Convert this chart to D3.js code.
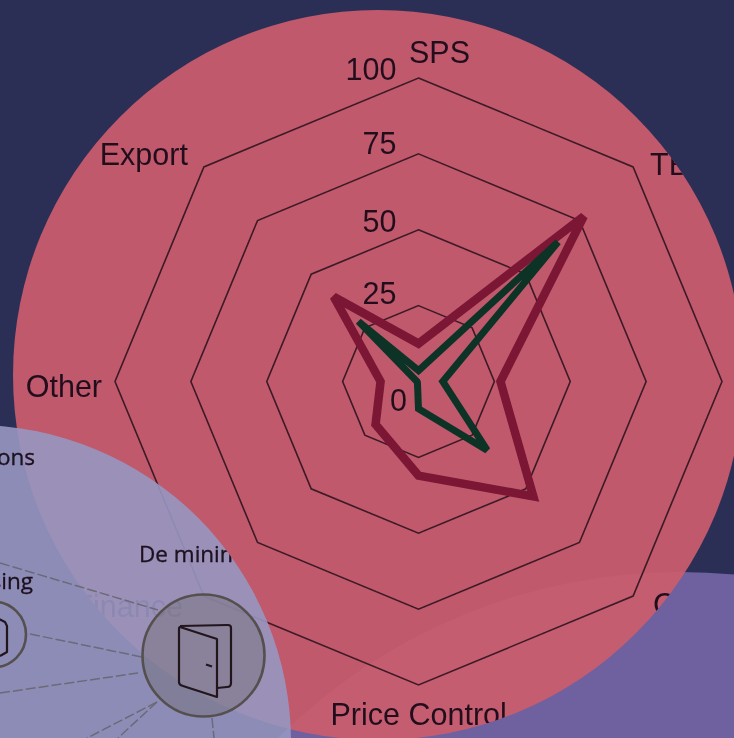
<!DOCTYPE html>
<html>
<head>
<meta charset="utf-8">
<script src="https://cdn.jsdelivr.net/npm/d3@7"></script>
<style>
html,body{margin:0;padding:0;background:#2b2f56;overflow:hidden}
svg{display:block}
text{font-family:"Liberation Sans",Arial,sans-serif}
</style>
</head>
<body>
<svg id="chart" width="734" height="738"></svg>
<script>
const categories = ["SPS","TBT","Quota","Contingent","Price Control","Finance","Other","Export"];
const seriesRed = [12.5,77,27,53.5,31,20,12.5,39.5];
const seriesGreen = [3.6,65,8,32,9,0.5,0.5,28];
const radialTicks = [25,50,75,100];
const tickLabels = ["0","25","50","75","100"];
const nodeLabels = ["De minimis","Exemptions","Licensing"];

const svg = d3.select("#chart");
const defs = svg.append("defs");
const W = 734, H = 738;

const circles = {
  purple:{cx:680,cy:1142,r:570},
  red:{cx:378,cy:375,r:365},
  blue:{cx:-26,cy:742,r:317}
};
defs.append("clipPath").attr("id","clipRed").append("circle").attr("cx",circles.red.cx).attr("cy",circles.red.cy).attr("r",circles.red.r);
defs.append("clipPath").attr("id","clipBlue").append("circle").attr("cx",circles.blue.cx).attr("cy",circles.blue.cy).attr("r",circles.blue.r);
const blur = defs.append("filter").attr("id","soft").attr("x","-5%").attr("y","-5%").attr("width","110%").attr("height","110%");
blur.append("feGaussianBlur").attr("stdDeviation",0.6);

svg.append("rect").attr("width",W).attr("height",H).attr("fill","#2b2f56");
svg.append("circle").attr("cx",circles.purple.cx).attr("cy",circles.purple.cy).attr("r",circles.purple.r).attr("fill","#6f61a0");
svg.append("circle").attr("cx",circles.red.cx).attr("cy",circles.red.cy).attr("r",circles.red.r).attr("fill","#cb5d6e").attr("fill-opacity",0.93);

// Radar chart
const cx = 418.5, cy = 381.5;
const rScale = d3.scaleLinear().domain([0,100]).range([0,303.5]);
const angle = d3.scalePoint().domain(categories).range([0,2*Math.PI*(1-1/categories.length)]);

const radarClip = svg.append("g").attr("clip-path","url(#clipRed)");
const radar = radarClip.append("g").attr("filter","url(#soft)").attr("transform",`translate(${cx},${cy})`);

const poly = d3.lineRadial().curve(d3.curveLinearClosed);
radar.selectAll("path.grid").data(radialTicks).join("path").attr("class","grid")
  .attr("d",t=>poly(categories.map(c=>[angle(c),rScale(t)])))
  .attr("fill","none").attr("stroke","#3c1a27").attr("stroke-width",1.6);

const seriesLine = d3.lineRadial().curve(d3.curveLinearClosed).angle((d,i)=>angle(categories[i])).radius(d=>rScale(d));
radar.append("path").datum(seriesRed).attr("d",seriesLine).attr("fill","none").attr("stroke","#7b1534")
  .attr("stroke-width",8.5).attr("stroke-linejoin","miter").attr("stroke-miterlimit",2.5);
radar.append("path").datum(seriesGreen).attr("d",seriesLine).attr("fill","none").attr("stroke","#0f3328")
  .attr("stroke-width",7).attr("stroke-linejoin","miter").attr("stroke-miterlimit",2.5);

const ink = "#24101e";
// label offsets from each axis vertex, as placed in the source figure
const labelOffset = {
  "SPS":[21,-15,"middle"],"TBT":[17,8,"start"],"Quota":[22,10,"start"],"Contingent":[20,19,"start"],
  "Price Control":[-88,40,"start"],"Finance":[-21,21,"end"],"Other":[-13,15,"end"],"Export":[-16,-2,"end"]
};
radar.selectAll("text.cat").data(categories).join("text").attr("class","cat")
  .attr("x",c=>d3.pointRadial(angle(c),rScale(100))[0]+labelOffset[c][0])
  .attr("y",c=>d3.pointRadial(angle(c),rScale(100))[1]+labelOffset[c][1])
  .attr("text-anchor",c=>labelOffset[c][2])
  .attr("font-size",30.5).attr("fill",ink).text(c=>c);

const tickDy = {"0":29,"25":-2,"50":2,"75":0,"100":2};
radar.selectAll("text.tick").data(tickLabels).join("text").attr("class","tick")
  .attr("x",d=>d==="0"?-20:-22)
  .attr("y",d=>-rScale(+d)+tickDy[d])
  .attr("text-anchor",d=>d==="0"?"middle":"end")
  .attr("font-size",30.5).attr("fill",ink).text(d=>d);

// Blue circle
svg.append("circle").attr("cx",circles.blue.cx).attr("cy",circles.blue.cy).attr("r",circles.blue.r).attr("fill","#9797c1").attr("fill-opacity",0.9);
const netClip = svg.append("g").attr("clip-path","url(#clipBlue)");
const net = netClip.append("g").attr("filter","url(#soft)");

const links = [
  [[0,563],[158,610]],[[30,634],[142,657]],[[0,693],[138,673]],
  [[157,702],[87,738]],[[157,702],[118,738]],[[212,718],[214,738]]
];
net.selectAll("line.link").data(links).join("line").attr("class","link")
  .attr("x1",d=>d[0][0]).attr("y1",d=>d[0][1]).attr("x2",d=>d[1][0]).attr("y2",d=>d[1][1])
  .attr("stroke","#6c6a78").attr("stroke-width",1.5).attr("stroke-dasharray","10 3");

const nodes = [{x:203.5,y:655.5,r:61},{x:-7,y:634.5,r:33}];
net.selectAll("circle.node").data(nodes).join("circle").attr("class","node")
  .attr("cx",d=>d.x).attr("cy",d=>d.y).attr("r",d=>d.r)
  .attr("fill","#696460").attr("fill-opacity",d=>d.r>40?0.34:0).attr("stroke","#55504f").attr("stroke-width",2.6);

const iconInk = "#20161f";
const door = net.append("g").attr("fill","none").attr("stroke",iconInk).attr("stroke-width",2.2).attr("stroke-linejoin","round");
door.append("path").attr("d","M180,626 L228,625 Q231,625 231,628 L231,683 Q231,687 227,687 L217,688");
door.append("path").attr("d","M180,627 L217,639 L217,697 L183,686 Q179,685 179,682 L179,629 Q179,627 180,627 Z");
door.append("path").attr("d","M206,664.5 L212,666.5");
const clip = net.append("g").attr("fill","none").attr("stroke",iconInk).attr("stroke-width",2.2).attr("stroke-linejoin","round");
clip.append("path").attr("d","M-3,618 L5,622 L7,626 L7,652 L0,656");
clip.append("path").attr("d","M-3,618 L-3,624");

const textSpec = [
  {t:nodeLabels[0],x:139,y:562,a:"start"},
  {t:nodeLabels[1],x:35,y:465,a:"end"},
  {t:nodeLabels[2],x:33,y:589,a:"end"}
];
net.selectAll("text.nl").data(textSpec).join("text").attr("class","nl")
  .attr("x",d=>d.x).attr("y",d=>d.y).attr("text-anchor",d=>d.a)
  .attr("font-size",22.5).attr("fill","#1d1220").attr("stroke","#1d1220").attr("stroke-width",0.35)
  .style("font-family","'Open Sans',sans-serif").text(d=>d.t);
</script>
</body>
</html>
